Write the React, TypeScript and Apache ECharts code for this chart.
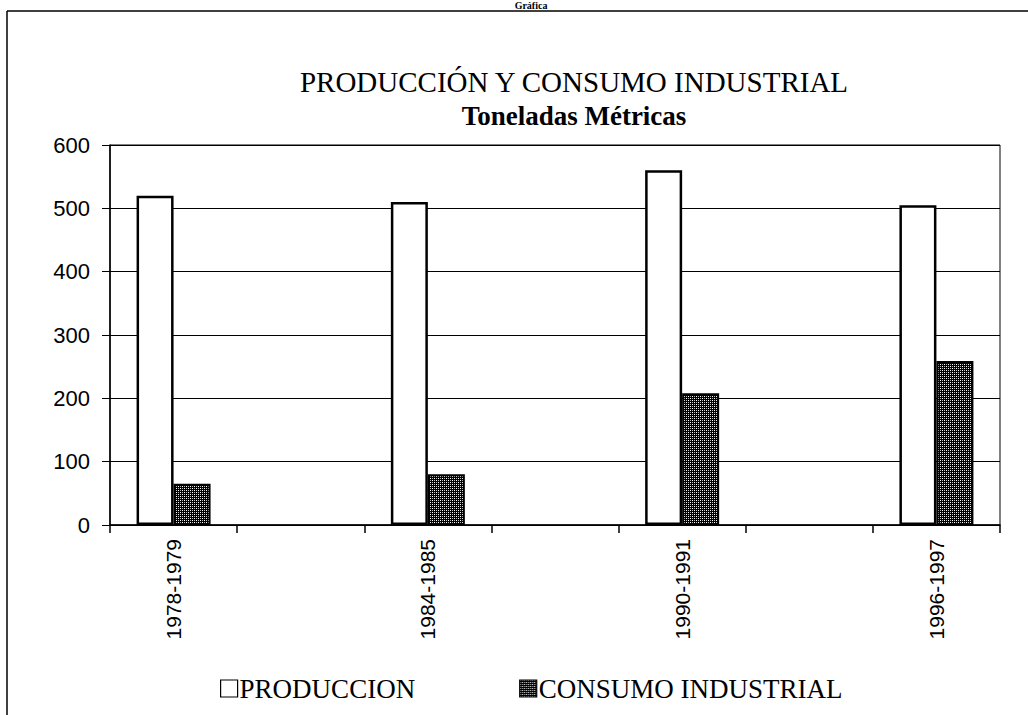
import React, { useEffect, useRef } from "react";
import * as echarts from "echarts";

const periods = ["1978-1979", "1984-1985", "1990-1991", "1996-1997"];
const produccion = [520, 510, 560, 505];
const consumoIndustrial = [65, 80, 208, 259];
const yTicks = [0, 100, 200, 300, 400, 500, 600];

// The original chart leaves an empty category slot between every labelled period.
const axisCategories: string[] = [];
const prodSeries: (number | null)[] = [];
const consSeries: (number | null)[] = [];
periods.forEach((p, i) => {
  axisCategories.push(p);
  prodSeries.push(produccion[i]);
  consSeries.push(consumoIndustrial[i]);
  if (i < periods.length - 1) {
    axisCategories.push("");
    prodSeries.push(null);
    consSeries.push(null);
  }
});

function makePattern(): string {
  const c = document.createElement("canvas");
  c.width = 4;
  c.height = 4;
  const ctx = c.getContext("2d")!;
  ctx.fillStyle = "#000";
  ctx.fillRect(0, 0, 4, 4);
  ctx.fillStyle = "#fff";
  ctx.fillRect(0, 0, 1, 1);
  ctx.fillRect(2, 2, 1, 1);
  ctx.fillStyle = "#bbb";
  ctx.fillRect(2, 0, 1, 1);
  ctx.fillRect(0, 2, 1, 1);
  return c.toDataURL();
}

export default function App() {
  const ref = useRef<HTMLDivElement>(null);
  useEffect(() => {
    if (!ref.current) return;
    const chart = echarts.init(ref.current, undefined, { renderer: "svg" });
    const pattern = { image: makePattern(), repeat: "repeat" } as any;
    const serif = "'Liberation Serif', 'Times New Roman', serif";
    const sans = "'Liberation Sans', Arial, sans-serif";
    chart.setOption({
      animation: false,
      backgroundColor: "#ffffff",
      title: [
        {
          text: "PRODUCCIÓN Y CONSUMO INDUSTRIAL",
          left: 569,
          top: 62,
          textAlign: "center",
          textStyle: { fontFamily: serif, fontSize: 29, fontWeight: "normal", color: "#000" },
        },
        {
          text: "Toneladas Métricas",
          left: 569,
          top: 97,
          textAlign: "center",
          textStyle: { fontFamily: serif, fontSize: 27, fontWeight: "bold", color: "#000" },
        },
      ],
      graphic: [
        {
          type: "line",
          shape: { x1: 7, y1: 11, x2: 1028, y2: 11 },
          style: { stroke: "#000", lineWidth: 1.5 },
        },
        {
          type: "line",
          shape: { x1: 7, y1: 11, x2: 7, y2: 715 },
          style: { stroke: "#000", lineWidth: 1.5 },
        },
        {
          type: "text",
          x: 531,
          y: 0,
          style: {
            text: "Gráfica",
            fontFamily: serif,
            fontSize: 10,
            fontWeight: "bold",
            fill: "#000",
            textAlign: "center",
            textVerticalAlign: "top",
          },
        },
      ],
      legend: {
        bottom: 8,
        left: 215,
        itemWidth: 17,
        itemHeight: 17,
        itemGap: 104,
        icon: "rect",
        textStyle: { fontFamily: serif, fontSize: 27, color: "#000", padding: [0, 0, 0, -3] },
        data: [
          { name: "PRODUCCION", itemStyle: { color: "#fff", borderColor: "#000", borderWidth: 1.2 } },
          { name: "CONSUMO INDUSTRIAL", itemStyle: { color: pattern, borderColor: "#000", borderWidth: 1.2 } },
        ],
      },
      grid: {
        left: 110,
        right: 28,
        top: 145,
        bottom: 190,
        show: true,
        borderColor: "#000",
        borderWidth: 1,
        containLabel: false,
      },
      xAxis: {
        type: "category",
        data: axisCategories,
        boundaryGap: true,
        axisLine: { lineStyle: { color: "#000", width: 1.5 } },
        axisTick: { show: true, interval: 0, length: 8, lineStyle: { color: "#000", width: 1.5 } },
        axisLabel: {
          interval: 0,
          rotate: 90,
          margin: 14,
          fontFamily: sans,
          fontSize: 21,
          color: "#000",
        },
        splitLine: { show: false },
      },
      yAxis: {
        type: "value",
        min: yTicks[0],
        max: yTicks[yTicks.length - 1],
        interval: 100,
        axisLine: { show: true, lineStyle: { color: "#000", width: 1.5 } },
        axisTick: { show: true, inside: false, length: 8, lineStyle: { color: "#000" } },
        axisLabel: { margin: 20, fontFamily: sans, fontSize: 22, color: "#000" },
        splitLine: { show: true, lineStyle: { color: "#000", width: 1 } },
      },
      series: [
        {
          name: "PRODUCCION",
          type: "bar",
          data: prodSeries,
          barWidth: 37,
          barGap: "0%",
          itemStyle: { color: "#fff", borderColor: "#000", borderWidth: 2.5 },
        },
        {
          name: "CONSUMO INDUSTRIAL",
          type: "bar",
          data: consSeries,
          barWidth: 37,
          barGap: "0%",
          itemStyle: { color: pattern, borderColor: "#000", borderWidth: 2 },
        },
      ],
    });
    return () => chart.dispose();
  }, []);
  return (
    <div
      ref={ref}
      style={{ position: "fixed", left: 0, top: 0, width: 1028, height: 715, background: "#fff" }}
    />
  );
}
